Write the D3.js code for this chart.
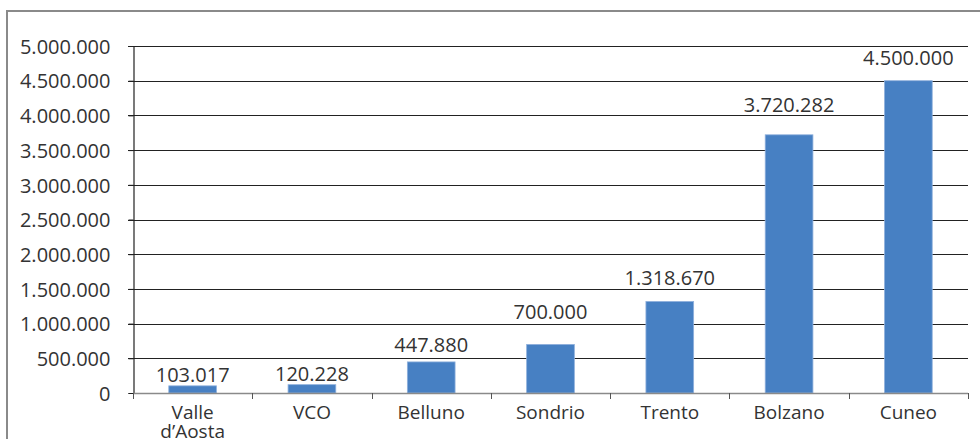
<!DOCTYPE html>
<html lang="it">
<head>
<meta charset="UTF-8" />
<title>Bar chart</title>
<script src="https://cdn.jsdelivr.net/npm/d3@7"></script>
<style>
    html, body { margin: 0; background: #fff; }
    svg { display: block; }
    text { font-family: "Open Sans", sans-serif; fill: #333; }
</style>
</head>
<body>
<div id="chart"></div>
<script>
    // data
    const categories = ["Valle\nd\u2019Aosta", "VCO", "Belluno", "Sondrio", "Trento", "Bolzano", "Cuneo"];
    const values = [103017, 120228, 447880, 700000, 1318670, 3720282, 4500000];
    const yTicks = [0, 500000, 1000000, 1500000, 2000000, 2500000, 3000000, 3500000, 4000000, 4500000, 5000000];

    const width = 980, height = 439;
    const margin = { left: 133, right: 12, top: 46, bottom: 46 };

    // value labels were nudged up by hand in the original so they sit clear of gridlines
    const labelLift = [4, 4, 10, 25, 16, 23, 16];

    const fmt = v => d3.format(",")(v).replace(/,/g, ".");

    const svg = d3.select("#chart").append("svg")
        .attr("width", width)
        .attr("height", height);

    // outer frame (cut off on right and bottom)
    svg.append("rect")
        .attr("x", 7).attr("y", 11)
        .attr("width", 1000).attr("height", 500)
        .attr("fill", "none")
        .attr("stroke", "#8a8a8a")
        .attr("stroke-width", 2);

    const x = d3.scaleBand()
        .domain(categories)
        .range([margin.left, width - margin.right])
        .paddingInner(0.6)
        .paddingOuter(0.3);

    const y = d3.scaleLinear()
        .domain([0, 5000000])
        .range([height - margin.bottom, margin.top]);

    // gridlines
    svg.append("g")
        .selectAll("line")
        .data(yTicks.slice(1))
        .join("line")
        .attr("x1", margin.left - 5)
        .attr("x2", width - margin.right)
        .attr("y1", d => Math.round(y(d)) + 0.5)
        .attr("y2", d => Math.round(y(d)) + 0.5)
        .attr("stroke", "#222")
        .attr("stroke-width", 1.2);

    // y axis
    const yAxis = svg.append("g")
        .attr("transform", `translate(${margin.left + 0.5},0)`)
        .call(d3.axisLeft(y).tickValues(yTicks).tickFormat(fmt).tickSize(5).tickPadding(18));
    yAxis.select(".domain").attr("stroke", "#222").attr("stroke-width", 1.2);
    yAxis.selectAll(".tick line").attr("stroke", "#222");
    yAxis.selectAll(".tick text").style("font-size", "20px").attr("fill", "#333").attr("dy", "0.36em");

    // bars
    svg.append("g")
        .selectAll("rect")
        .data(values)
        .join("rect")
        .attr("x", (d, i) => x(categories[i]))
        .attr("width", x.bandwidth())
        .attr("y", d => y(d))
        .attr("height", d => y(0) - y(d))
        .attr("fill", "#4780c3")
        .attr("stroke", "#8fb0dc")
        .attr("stroke-width", 0.8);

    // x axis
    const x0 = margin.left, x1 = width - margin.right;
    const xg = svg.append("g");
    xg.append("line")
        .attr("x1", x0).attr("x2", x1)
        .attr("y1", y(0) + 0.5).attr("y2", y(0) + 0.5)
        .attr("stroke", "#8a8a8a").attr("stroke-width", 1.5);
    xg.selectAll("line.tk")
        .data(d3.range(categories.length + 1))
        .join("line")
        .attr("class", "tk")
        .attr("x1", i => Math.round(x0 + (x1 - x0) * i / categories.length) + 0.5)
        .attr("x2", i => Math.round(x0 + (x1 - x0) * i / categories.length) + 0.5)
        .attr("y1", y(0))
        .attr("y2", y(0) + 6)
        .attr("stroke", "#555");

    // category labels
    xg.selectAll("text.cat")
        .data(categories)
        .join("text")
        .attr("class", "cat")
        .attr("text-anchor", "middle")
        .style("font-size", "19px")
        .attr("transform", d => `translate(${x(d) + x.bandwidth() / 2},${y(0) + 26})`)
        .each(function (d) {
            d.split("\n").forEach((line, k) => {
                d3.select(this).append("tspan")
                    .attr("x", 0)
                    .attr("y", k * 19)
                    .text(line);
            });
        });

    // value labels
    svg.append("g")
        .selectAll("text")
        .data(values)
        .join("text")
        .attr("text-anchor", "middle")
        .style("font-size", "20px")
        .attr("x", (d, i) => x(categories[i]) + x.bandwidth() / 2)
        .attr("y", (d, i) => y(d) - labelLift[i])
        .text(fmt);
</script>
</body>
</html>
